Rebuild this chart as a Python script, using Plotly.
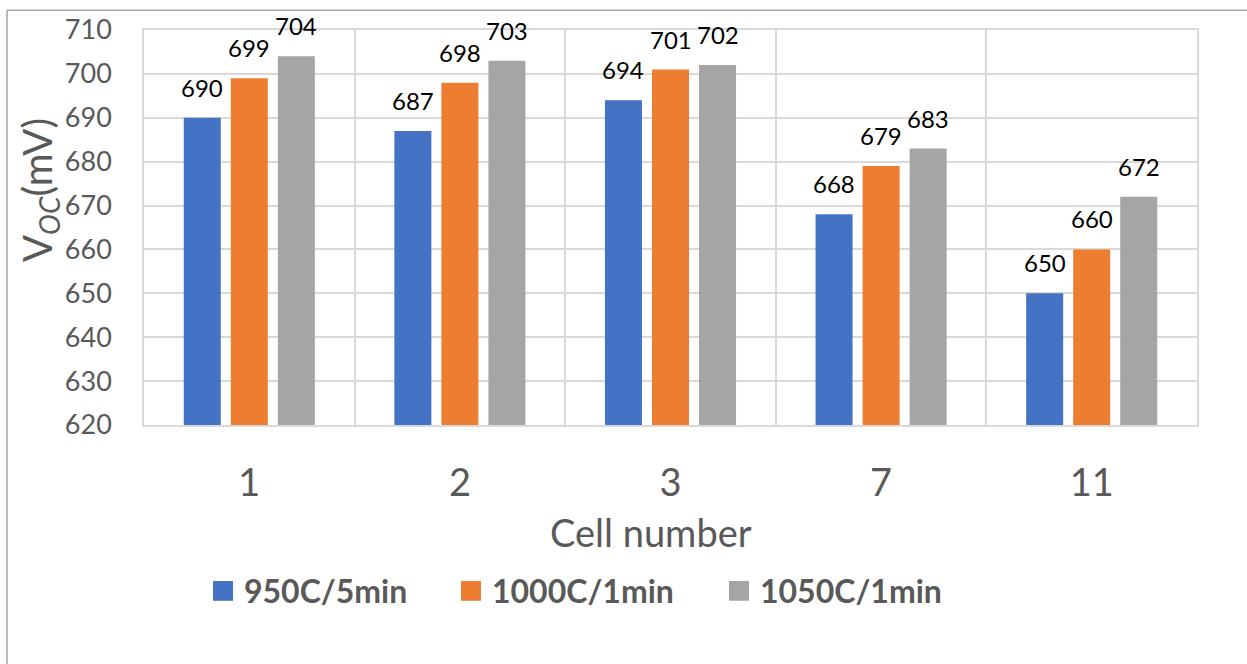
import plotly.graph_objects as go

# Open-circuit voltage per cell for three firing recipes
cells = ["1", "2", "3", "7", "11"]
recipes = ["950C/5min", "1000C/1min", "1050C/1min"]
voc_950_5 = [690, 687, 694, 668, 650]
voc_1000_1 = [699, 698, 701, 679, 660]
voc_1050_1 = [704, 703, 702, 683, 672]
series = [voc_950_5, voc_1000_1, voc_1050_1]
colors = ["#4472C4", "#ED7D31", "#A5A5A5"]

W, H = 1247, 664
M_L, M_R, M_T, M_B = 144, 50, 25, 239
BARGAP, BARGROUPGAP = 0.33, 0.213
FONT = "Lato"
GREY_TXT = "#595959"
GRID = "#D9D9D9"

plot_w = W - M_L - M_R
plot_h = H - M_T - M_B


def px_x(px):
    """Pixel column -> paper x."""
    return (px - M_L) / plot_w


def px_y(py):
    """Pixel row -> paper y."""
    return (M_T + plot_h - py) / plot_h


fig = go.Figure()

for name, vals, col in zip(recipes, series, colors):
    fig.add_trace(go.Bar(
        x=cells, y=vals, name=name, showlegend=False,
        marker=dict(color=col, line=dict(color=col, width=0)),
        hoverinfo="x+y+name",
    ))

# value labels above each bar, shifted to the bar's slot in the group
cat_w = plot_w / len(cells)
slot_w = cat_w * (1 - BARGAP) / len(series)
annotations = []
for i, vals in enumerate(series):
    shift = (i - (len(series) - 1) / 2) * slot_w
    for k, v in enumerate(vals):
        annotations.append(dict(
            x=k, y=v, xref="x", yref="y", text=str(v), showarrow=False,
            xanchor="center", yanchor="bottom", xshift=shift, yshift=14,
            font=dict(family=FONT, size=24, color="#000000"),
        ))

# axis titles
annotations.append(dict(
    x=px_x(40), y=px_y(187), xref="paper", yref="paper",
    text="V<sub><i>OC</i></sub>(mV)", textangle=-90, showarrow=False,
    xanchor="center", yanchor="middle",
    font=dict(family=FONT, size=40, color=GREY_TXT),
))
annotations.append(dict(
    x=px_x(651), y=px_y(533), xref="paper", yref="paper",
    text="Cell number", showarrow=False, xanchor="center", yanchor="middle",
    font=dict(family=FONT, size=38, color=GREY_TXT),
))

shapes = [
    # outer chart frame (top and left edges)
    dict(type="line", xref="paper", yref="paper",
         x0=px_x(7), x1=px_x(W + 5), y0=px_y(5), y1=px_y(5),
         line=dict(color="#A6A6A6", width=1.5)),
    dict(type="line", xref="paper", yref="paper",
         x0=px_x(7), x1=px_x(7), y0=px_y(5), y1=px_y(H + 5),
         line=dict(color="#A6A6A6", width=1.5)),
]

# legend row: square swatch followed by the recipe name
legend_left = [213, 461, 729]
SW = 20
LEG_Y = 593
for name, col, x0 in zip(recipes, colors, legend_left):
    shapes.append(dict(
        type="rect", xref="paper", yref="paper",
        x0=px_x(x0), x1=px_x(x0 + SW), y0=px_y(LEG_Y - SW / 2), y1=px_y(LEG_Y + SW / 2),
        fillcolor=col, line=dict(width=0),
    ))
    annotations.append(dict(
        x=px_x(x0 + SW + 9), y=px_y(LEG_Y), xref="paper", yref="paper",
        text=f"<b>{name}</b>", showarrow=False, xanchor="left", yanchor="middle",
        font=dict(family=FONT, size=32, color=GREY_TXT),
    ))

fig.update_layout(
    width=W, height=H,
    margin=dict(l=M_L, r=M_R, t=M_T, b=M_B, pad=0),
    paper_bgcolor="white", plot_bgcolor="white",
    barmode="group", bargap=BARGAP, bargroupgap=BARGROUPGAP,
    annotations=annotations, shapes=shapes, showlegend=False,
    font=dict(family=FONT, color=GREY_TXT),
)

fig.update_xaxes(
    type="category", range=[-0.5, len(cells) - 0.5], tickson="boundaries",
    showgrid=True, gridcolor=GRID, gridwidth=1.5,
    showline=True, linecolor=GRID, linewidth=1.5, mirror=True,
    ticks="", tickfont=dict(family=FONT, size=38, color=GREY_TXT),
    ticklabelstandoff=24,
)
fig.update_yaxes(
    range=[620, 710], dtick=10, tick0=620, showgrid=True, gridcolor=GRID, gridwidth=1.5,
    showline=True, linecolor=GRID, linewidth=1.5, mirror=True, zeroline=False,
    ticks="", tickfont=dict(family=FONT, size=27, color=GREY_TXT),
    ticklabelstandoff=25,
)

fig.write_html("out.html")
